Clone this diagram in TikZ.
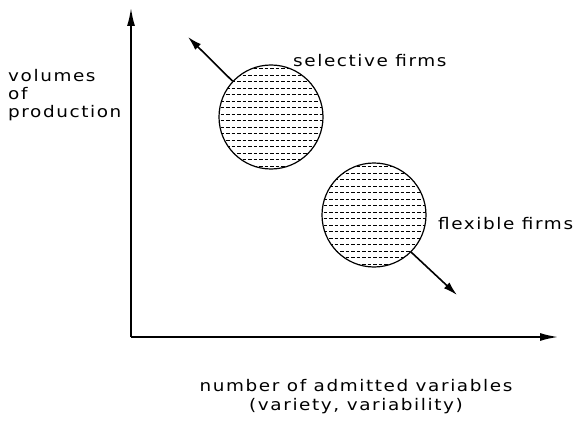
\documentclass[tikz,border=0pt]{standalone}
\usepackage{fontspec}
\setmainfont{DejaVu Sans}[LetterSpace=10,FakeStretch=1.15]
\usetikzlibrary{arrows.meta}
\begin{document}
\begin{tikzpicture}[x={(1pt,0)},y={(0,-1pt)},
  axis/.style={line width=1.6pt,-{Latex[length=18pt,width=8pt]}},
  move/.style={line width=1.6pt,-{Latex[length=14pt,width=8pt]}},
  firm/.style={circle,draw,line width=1.2pt,minimum size=104pt,inner sep=0pt},
  lbl/.style={font=\fontsize{16}{18}\selectfont,inner sep=0pt},
  hatch/.style={line width=0.9pt,dash pattern=on 3.5pt off 2pt}]
\useasboundingbox (0,0) rectangle (586,425);
% hatching
\begin{scope}
\clip (271,117) circle (52pt);
\foreach \yy in {62,68.5,...,172} \draw[hatch] (215,\yy) -- (330,\yy);
\end{scope}
\begin{scope}
\clip (374,215) circle (52pt);
\foreach \yy in {160,166.5,...,270} \draw[hatch] (318,\yy) -- (432,\yy);
\end{scope}
\node[firm] (c1) at (271,117) {};
\node[firm] (c2) at (374,215) {};
\coordinate (o) at (131,337);
\coordinate (ytip) at (131,8);
\coordinate (xtip) at (558,337);
\coordinate (a1) at (188,37);
\coordinate (a2) at (457,295);
\draw[axis] (o) -- (ytip);
\draw[axis] (o) -- (xtip);
\draw[move] (c1.137) -- (a1);
\draw[move] (c2.-45) -- (a2);
\node[lbl,anchor=west] (t1) at (293,61) {selective firms};
\node[lbl,anchor=west] (t2) at (438,224) {flexible firms};
\node[lbl,anchor=west,align=left] (t3) at (8,95) {volumes\\of\\production};
\node[lbl,align=center,font=\fontsize{16}{19}\selectfont] (t4) at (356,397) {number of admitted variables\\(variety, variability)};
\end{tikzpicture}
\end{document}
